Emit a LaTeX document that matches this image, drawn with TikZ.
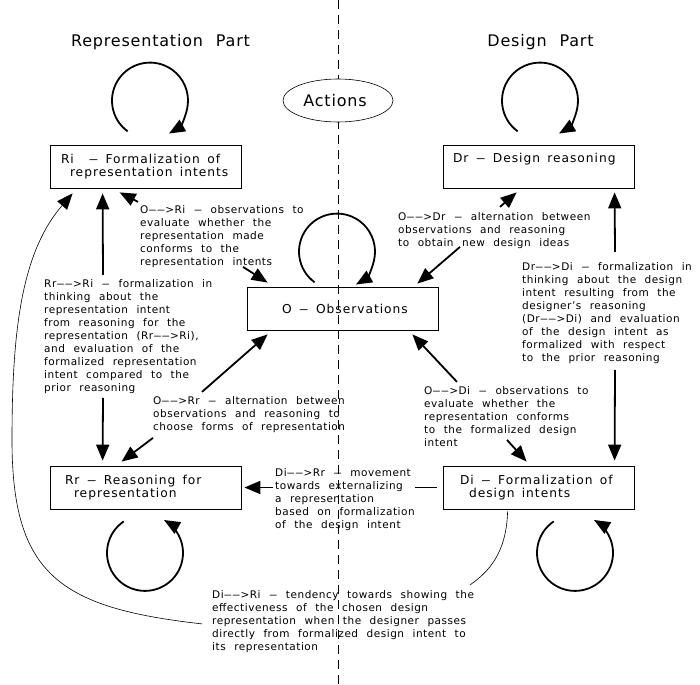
\documentclass[tikz,border=0pt]{standalone}
\usepackage{fontspec}
\usepackage{graphicx}
\setmainfont{DejaVu Sans}[LetterSpace=5,WordSpace=2.2]
\newfontfamily\boxfont{DejaVu Sans}[LetterSpace=8,WordSpace=1.5]
\usetikzlibrary{arrows.meta,shapes.geometric,calc}

% long dash used in the labels and box titles
\newcommand\dsh{\scalebox{1.6}[1]{–}}
\newcommand\lto{\dsh\dsh>}
% one line of box text, padded on the left, as wide as the box
\newcommand\bline[2]{\makebox[191pt][l]{\hspace*{#1}#2}}

\tikzset{
  bigtip/.tip={Triangle[length=16pt,width=13pt]},
  boxnode/.style={draw, line width=0.8pt, rectangle, inner sep=0pt,
    minimum width=191pt, minimum height=43pt, align=left,
    font=\boxfont\fontsize{12.25}{13.5}\selectfont},
  lbl/.style={inner sep=0pt, anchor=north west, align=left,
    font=\fontsize{10.5}{13}\selectfont},
  titlenode/.style={inner sep=0pt, anchor=base, font=\fontsize{16}{18}\selectfont},
  conn/.style={line width=1.8pt, -bigtip},
  bar/.style={line width=1.8pt},
  thinconn/.style={line width=0.6pt},
  loopar/.style={line width=1.8pt, -bigtip},
  divider/.style={line width=0.6pt, dash pattern=on 9pt off 6pt},
}

\begin{document}
\begin{tikzpicture}[x=1pt,y=-1pt]
\useasboundingbox (0,0) rectangle (700,684);

% vertical divider between the two parts
\draw[divider] (338,0) -- (338,684);
\node[draw, line width=0.6pt, fill=white, ellipse, minimum width=110pt,
  minimum height=43pt, inner sep=0pt, font=\fontsize{16}{18}\selectfont]
  (act) at (338,100.5) {Actions\hspace*{6pt}};

% part titles
\node[titlenode] (tRep) at (160.5,47) {Representation Part};
\node[titlenode] (tDes) at (540.5,47) {Design Part};

% states
\node[boxnode] (Ri) at (145.5,166.5) {\bline{11pt}{Ri~ \dsh{} Formalization of}\\\bline{20pt}{representation intents}};
\node[boxnode] (Dr) at (538.5,166.5) {\bline{10pt}{Dr \dsh{} Design reasoning}\\\strut};
\node[boxnode] (O)  at (342.5,308.5) {\bline{35pt}{O \dsh{} Observations}};
\node[boxnode] (Rr) at (145.5,487.5) {\bline{15pt}{Rr \dsh{} Reasoning for}\\\bline{24pt}{representation}};
\node[boxnode] (Di) at (538.5,487.5) {\bline{17pt}{Di \dsh{} Formalization of}\\\bline{26pt}{design intents}};

% transition descriptions
\node[lbl] (L1) at (140,203.9) {\strut O\lto Ri \dsh{} observations to\\evaluate whether the\\representation made\\conforms to the\\representation intents};
\node[lbl] (L2) at (398,210.9) {\strut O\lto Dr \dsh{} alternation between\\observations and reasoning\\to obtain new design ideas};
\node[lbl] (L3) at (522,260.9) {\strut Dr\lto Di \dsh{} formalization in\\thinking about the design\\intent resulting from the\\designer’s reasoning\\(Dr\lto Di) and evaluation\\of the design intent as\\formalized with respect\\to the prior reasoning};
\node[lbl] (L4) at (44,277.9) {\strut Rr\lto Ri \dsh{} formalization in\\thinking about the\\representation intent\\from reasoning for the\\representation (Rr\lto Ri),\\and evaluation of the\\formalized representation\\intent compared to the\\prior reasoning};
\node[lbl] (L5) at (153,394.9) {\strut O\lto Rr \dsh{} alternation between\\observations and reasoning to\\choose forms of representation};
\node[lbl] (L6) at (424,384.9) {\strut O\lto Di \dsh{} observations to\\evaluate whether the\\representation conforms\\to the formalized design\\intent};
\node[lbl] (L7) at (275,466.9) {\strut Di\lto Rr \dsh{} movement\\towards externalizing\\a representation\\based on formalization\\of the design intent};
\node[lbl] (L8) at (212,588.9) {\strut Di\lto Ri \dsh{} tendency towards showing the\\effectiveness of the chosen design\\representation when the designer passes\\directly from formalized design intent to\\its representation};

% self loops
\draw[loopar] ($(Ri.north)+(4.5,-44)+(126:38)$) arc[start angle=126,end angle=420,radius=38];
\draw[loopar] ($(Dr.north)+(1.5,-44)+(126:38)$) arc[start angle=126,end angle=420,radius=38];
\draw[loopar] ($(O.north)+(-5.5,-35)+(126:38)$) arc[start angle=126,end angle=420,radius=38];
\draw[loopar] ($(Rr.south)+(-0.5,43.5)+(236:38)$) arc[start angle=236,end angle=-60,radius=38];
\draw[loopar] ($(Di.south)+(36.5,43.5)+(236:38)$) arc[start angle=236,end angle=-60,radius=38];

% Rr <-> Ri
\draw[conn] ($(L4.north west)+(59,-3)$) -- ($(Ri.south west)+(53,5)$);
\draw[conn] ($(L4.north west)+(59,120)$) -- ($(Rr.north west)+(53,-5)$);
% Dr <-> Di
\draw[conn] ($(L3.north west)+(93,-9)$) -- ($(Dr.south west)+(172,4)$);
\draw[conn] ($(L3.north west)+(93,109)$) -- ($(Di.north west)+(172,-5)$);
% O <-> Ri
\draw[conn] ($(L1.north west)+(-2,-2)$) -- ($(Ri.south west)+(70,4)$);
\draw[conn] ($(L1.north west)+(103,63)$) -- ($(O.north west)+(21,-4)$);
% O <-> Dr
\draw[conn] ($(L2.north west)+(102,-4)$) -- ($(Dr.south west)+(74,4)$);
\draw[conn] ($(L2.north west)+(62,36)$) -- ($(O.north east)+(-21,-3)$);
% O <-> Rr
\draw[conn] ($(L5.north west)+(49,-3)$) -- ($(O.south west)+(21,4)$);
\draw[conn] ($(L5.north west)+(0,43)$) -- ($(Rr.north west)+(72,-4)$);
% O <-> Di
\draw[conn] ($(L6.north west)+(33,-3)$) -- ($(O.south east)+(-26,4)$);
\draw[conn] ($(L6.north west)+(83,55)$) -- ($(Di.north west)+(84,-4)$);
% Di -> Rr
\draw[conn] ($(Rr.east -| L7.west)+(-2,0)$) -- ($(Rr.east)+(3,0)$);
\draw[bar] ($(Di.west)+(-6,0)$) -- ($(Di.west)+(-28,0)$);
% Di -> Ri, thin curve around the left side
\coordinate (lc) at (12,440);
\draw[thinconn] ($(Di.south west)+(65,2)$) .. controls +(-1,34) and +(25,-17) .. ($(L8.north west)+(258,-4)$);
\draw[thinconn, -bigtip] ($(L8.north west)+(-10,35)$) .. controls +(-142,-16) and +(0,135) .. (lc)
  .. controls +(0,-110) and +(-51,59) .. ($(Ri.south west)+(23,5)$);
\end{tikzpicture}
\end{document}
